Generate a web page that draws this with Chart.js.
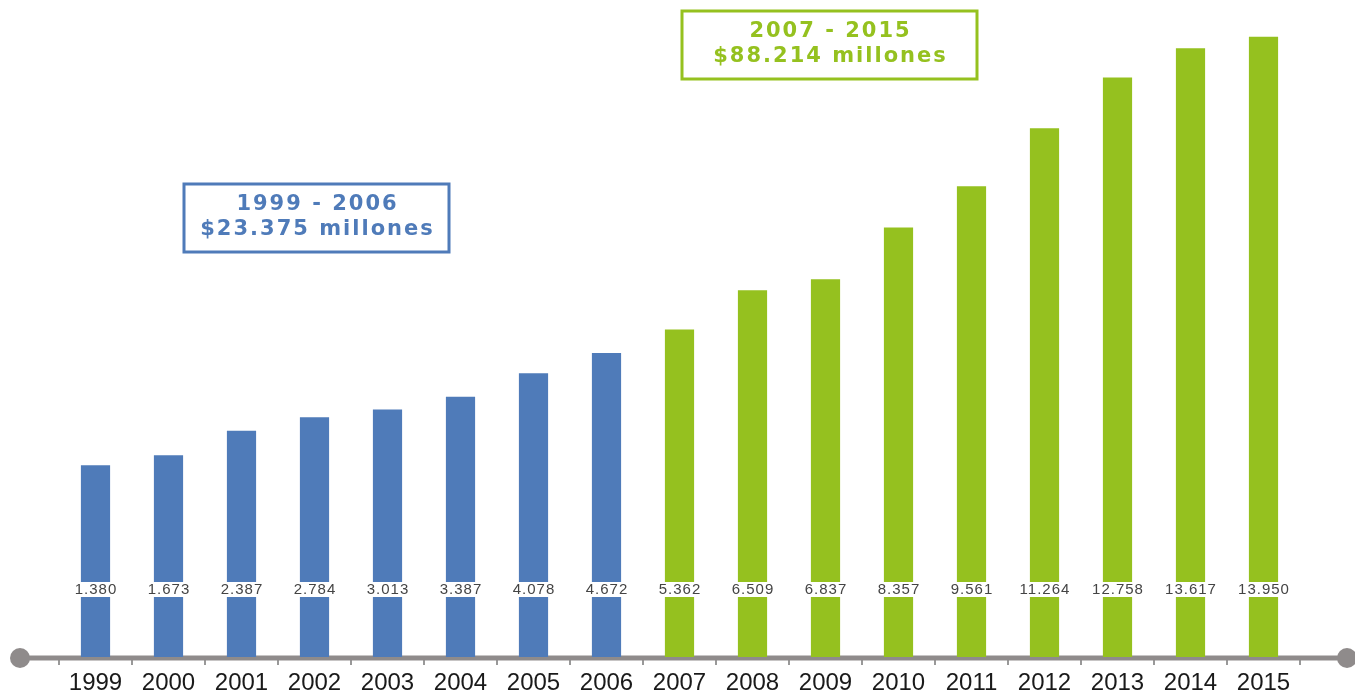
<!DOCTYPE html>
<html>
<head>
<meta charset="utf-8">
<script src="https://cdn.jsdelivr.net/npm/chart.js@4"></script>
<style>
    html, body { margin: 0; padding: 0; background: #fff; }
    #wrap { width: 1355px; height: 693px; position: relative; }
</style>
</head>
<body>
<div id="wrap"><canvas id="inversionChart"></canvas></div>
<script>
// years and values (miles de millones)
const years = ["1999", "2000", "2001", "2002", "2003", "2004", "2005", "2006", "2007",
    "2008", "2009", "2010", "2011", "2012", "2013", "2014", "2015"];
const values = [1.380, 1.673, 2.387, 2.784, 3.013, 3.387, 4.078, 4.672, 5.362,
    6.509, 6.837, 8.357, 9.561, 11.264, 12.758, 13.617, 13.950];
const firstPeriod = ["1999 - 2006", "$23.375 millones"];
const secondPeriod = ["2007 - 2015", "$88.214 millones"];

const blue = "#4f7bb9";
const green = "#95c11f";
const axisGray = "#8f8b8b";
const yMin = -4.25;
const yMax = 15.03;

const barColors = years.map(y => Number(y) <= 2006 ? blue : green);

// axis line with the round ends, value labels and the two boxes
const decorations = {
    id: "decorations",
    beforeDatasetsDraw(chart) {
        const ctx = chart.ctx;
        const area = chart.chartArea;
        const y = area.bottom + 1;
        ctx.save();
        ctx.strokeStyle = axisGray;
        ctx.lineWidth = 5;
        ctx.beginPath();
        ctx.moveTo(20, y);
        ctx.lineTo(1347, y);
        ctx.stroke();
        ctx.fillStyle = axisGray;
        [20, 1347].forEach(x => {
            ctx.beginPath();
            ctx.arc(x, y, 10, 0, Math.PI * 2);
            ctx.fill();
        });
        ctx.restore();
    },
    afterDatasetsDraw(chart) {
        const ctx = chart.ctx;
        const meta = chart.getDatasetMeta(0);
        ctx.save();
        ctx.font = "15px 'Liberation Sans', Arial, sans-serif";
        ctx.letterSpacing = "1px";
        ctx.textAlign = "center";
        ctx.textBaseline = "middle";
        meta.data.forEach((bar, i) => {
            const txt = values[i].toFixed(3);
            const w = ctx.measureText(txt).width;
            ctx.fillStyle = "#fff";
            ctx.fillRect(bar.x - w / 2 - 1, 582, w + 2, 15);
            ctx.fillStyle = "#444";
            ctx.fillText(txt, bar.x + 0.5, 590);
        });

        function box(lines, x, y, w, h, color) {
            ctx.strokeStyle = color;
            ctx.lineWidth = 3;
            ctx.strokeRect(x, y, w, h);
            ctx.fillStyle = color;
            ctx.font = "bold 21px 'DejaVu Sans', sans-serif";
            ctx.letterSpacing = "2px";
            ctx.fillText(lines[0], x + w / 2 + 1, y + h / 2 - 13);
            ctx.fillText(lines[1], x + w / 2 + 1, y + h / 2 + 12);
        }
        box(firstPeriod, 184, 184, 265, 68, blue);
        box(secondPeriod, 682, 11, 295, 68, green);
        ctx.restore();
    }
};

new Chart(document.getElementById("inversionChart"), {
    type: "bar",
    data: {
        labels: years,
        datasets: [{
            data: values,
            base: yMin,
            backgroundColor: barColors,
            barPercentage: 0.5,
            categoryPercentage: 0.8
        }]
    },
    options: {
        responsive: true,
        maintainAspectRatio: false,
        animation: false,
        layout: { padding: { left: 59, right: 55, top: 0, bottom: 0 } },
        plugins: {
            legend: { display: false },
            tooltip: { enabled: false }
        },
        scales: {
            x: {
                border: { display: false },
                afterFit: scale => { scale.height = 36; },
                grid: {
                    offset: true,
                    drawOnChartArea: false,
                    drawTicks: true,
                    tickLength: 8,
                    color: "#999",
                    lineWidth: 2
                },
                ticks: {
                    color: "#1a1a1a",
                    padding: 6,
                    maxRotation: 0,
                    font: { family: "'Liberation Sans', Arial, sans-serif", size: 24, lineHeight: 1 }
                }
            },
            y: {
                display: false,
                min: yMin,
                max: yMax
            }
        }
    },
    plugins: [decorations]
});
</script>
</body>
</html>
